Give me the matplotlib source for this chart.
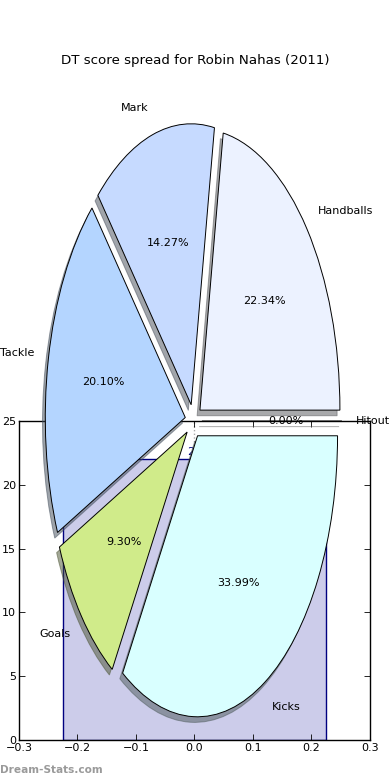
import matplotlib
matplotlib.use('Agg')
import matplotlib.pyplot as plt

# pie data (DT score share per stat)
labels = ['Handballs', 'Mark', 'Tackle', 'Goals', 'Kicks', 'Hitout']
shares = [22.34, 14.27, 20.10, 9.30, 33.99, 0.0]
colors = ['#ecf2ff', '#c6daff', '#b4d5ff', '#d0eb8a', '#d9ffff', '#ffffff']

# the bar sitting behind the pie
bar_x = [0.0]
bar_h = [22]
bar_label = ['22']
xticks = [-0.3, -0.2, -0.1, 0.0, 0.1, 0.2, 0.3]
yticks = [0, 5, 10, 15, 20, 25]

fig = plt.figure(figsize=(3.9, 7.8), dpi=100)

# bar axes underneath
ax_bar = fig.add_axes([0.0487, 0.0513, 0.9, 0.409])
ax_bar.bar(bar_x, bar_h, width=0.45, color='#ccccea', edgecolor='#000080', linewidth=1)
for x, h, t in zip(bar_x, bar_h, bar_label):
    ax_bar.text(x, h + 0.2, t, ha='center', va='bottom', color='#000080', fontsize=8)
ax_bar.axvline(0, color='#aaaaaa', ls=':', lw=1, zorder=0.5)
ax_bar.set_xlim(-0.3, 0.3)
ax_bar.set_ylim(0, 25)
ax_bar.set_xticks(xticks)
ax_bar.set_yticks(yticks)
ax_bar.tick_params(direction='in', length=4, width=0.6, top=True, right=True, labelsize=8, pad=2)
for s in ax_bar.spines.values():
    s.set_linewidth(1)

# pie axes on top, transparent
ax = fig.add_axes([0, 0, 1, 1])
ax.patch.set_alpha(0)
ax.pie(shares, labels=labels, colors=colors, autopct='%.2f%%',
       explode=[0.06] * len(shares), startangle=0,
       shadow={'ox': -0.0144, 'oy': -0.0144, 'shade': 0.65},
       wedgeprops={'edgecolor': 'black', 'linewidth': 0.7},
       textprops={'fontsize': 8})
ax.set_aspect('auto')
ax.set_xlim(-193.5 / 140, (390 - 193.5) / 140)
ax.set_ylim(-(780 - 421) / 281, 421 / 281)
ax.axis('off')

fig.text(0.5, 0.923, 'DT score spread for Robin Nahas (2011)', ha='center', va='center', fontsize=9.6)
fig.text(0.0, 0.006, 'Dream-Stats.com', ha='left', va='bottom', fontsize=7.6,
         color='#9a9a9a', fontweight='bold')

fig.savefig('out.png', dpi=100)
